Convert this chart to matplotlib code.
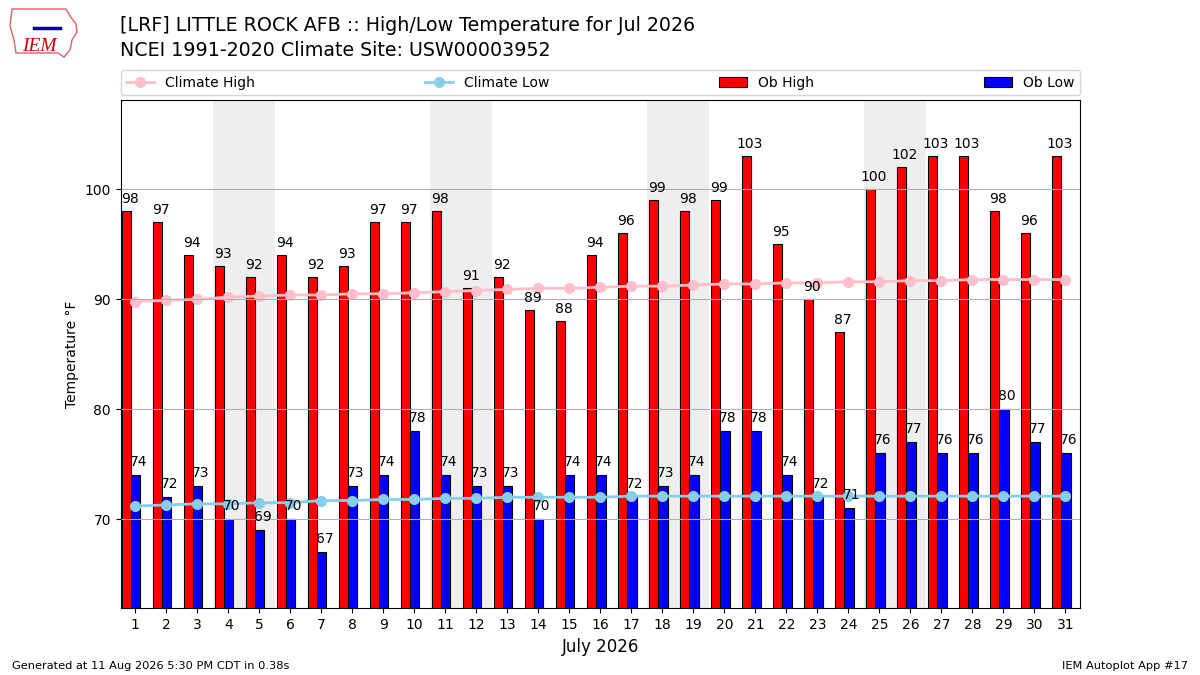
import matplotlib
matplotlib.use("Agg")
import matplotlib.pyplot as plt
from matplotlib.lines import Line2D
from matplotlib.patches import Patch, Polygon
import numpy as np

days = list(range(1, 32))
ob_high = [98, 97, 94, 93, 92, 94, 92, 93, 97, 97, 98, 91, 92, 89, 88, 94,
           96, 99, 98, 99, 103, 95, 90, 87, 100, 102, 103, 103, 98, 96, 103]
ob_low = [74, 72, 73, 70, 69, 70, 67, 73, 74, 78, 74, 73, 73, 70, 74, 74,
          72, 73, 74, 78, 78, 74, 72, 71, 76, 77, 76, 76, 80, 77, 76]
climate_high = [89.8, 89.9, 90.0, 90.2, 90.3, 90.4, 90.4, 90.5, 90.5, 90.6,
                90.7, 90.8, 90.9, 91.0, 91.0, 91.1, 91.2, 91.2, 91.3, 91.4,
                91.4, 91.5, 91.5, 91.6, 91.6, 91.7, 91.7, 91.8, 91.8, 91.8, 91.8]
climate_low = [71.2, 71.3, 71.4, 71.4, 71.5, 71.5, 71.7, 71.7, 71.8, 71.8,
               71.9, 71.9, 72.0, 72.0, 72.0, 72.0, 72.1, 72.1, 72.1, 72.1,
               72.1, 72.1, 72.1, 72.1, 72.1, 72.1, 72.1, 72.1, 72.1, 72.1, 72.1]
weekend_starts = [4, 11, 18, 25]
yticks = [70, 80, 90, 100]

title1 = "[LRF] LITTLE ROCK AFB :: High/Low Temperature for Jul 2026"
title2 = "NCEI 1991-2020 Climate Site: USW00003952"
footer_left = "Generated at 11 Aug 2026 5:30 PM CDT in 0.38s"
footer_right = "IEM Autoplot App #17"

fig = plt.figure(figsize=(12, 6.75), dpi=100)
ax = fig.add_axes([0.1006, 0.0988, 0.7997, 0.7526])

x = np.array(days, dtype=float)
for s in weekend_starts:
    ax.axvspan(s - 0.5, s + 1.5, color="#EEEEEE", zorder=0, lw=0)

w = 0.3
xh = x - 0.285
xl = x + 0.015
ax.bar(xh, ob_high, width=w, color="red", edgecolor="black", linewidth=0.8,
       zorder=1)
ax.bar(xl, ob_low, width=w, color="blue", edgecolor="black", linewidth=0.8,
       zorder=1)

ax.plot(x, climate_high, color="pink", marker="o", markersize=7, lw=2, zorder=2)
ax.plot(x, climate_low, color="skyblue", marker="o", markersize=7, lw=2, zorder=2)

for xi, v in zip(xh, ob_high):
    ax.text(xi + 0.1, v + 0.8, f"{v}", ha="center", va="baseline",
            fontsize=10, zorder=3)
for xi, v in zip(xl, ob_low):
    ax.text(xi + 0.1, v + 0.8, f"{v}", ha="center", va="baseline",
            fontsize=10, zorder=3)

ax.set_xlim(0.53, 31.48)
ax.set_ylim(61.9, 108.1)
ax.set_xticks(days)
ax.set_xticklabels([str(d) for d in days], fontsize=10)
ax.set_yticks(yticks)
ax.tick_params(axis="y", labelsize=10)
ax.yaxis.grid(True, color="#b0b0b0", lw=0.8)
ax.set_axisbelow(False)
ax.set_xlabel("July 2026", fontsize=12)
ax.set_ylabel("Temperature °F", fontsize=10)

handles = [
    Line2D([], [], color="pink", marker="o", markersize=7, lw=2),
    Line2D([], [], color="skyblue", marker="o", markersize=7, lw=2),
    Patch(facecolor="red", edgecolor="black", linewidth=0.8),
    Patch(facecolor="blue", edgecolor="black", linewidth=0.8),
]
labels = ["Climate High", "Climate Low", "Ob High", "Ob Low"]
ax.legend(handles, labels, ncol=4, mode="expand", loc="lower left",
          bbox_to_anchor=(0, 1.01, 1, 0.05), borderaxespad=0, fontsize=10)

fig.text(0.1, 0.9545, title1, fontsize=13.7, ha="left", va="baseline")
fig.text(0.1, 0.917, title2, fontsize=13.7, ha="left", va="baseline")

# simple logo: state outline + IEM text
outline_px = [(12, 9), (66, 9), (70, 16), (76, 24), (77, 32), (72, 40),
              (70, 50), (64, 57), (58, 53), (16, 53), (14, 40), (10, 26)]
outline = Polygon([(px / 1200, 1 - py / 675) for px, py in outline_px],
                  closed=True, fill=False, edgecolor="#e06060", lw=1,
                  transform=fig.transFigure)
fig.add_artist(outline)
fig.add_artist(Line2D([0.028, 0.05], [1 - 28 / 675, 1 - 28 / 675],
                      color="#0000aa", lw=2.5, transform=fig.transFigure))
fig.text(0.018, 0.925, "IEM", fontsize=14, color="#cc0000",
         family="Liberation Serif", style="italic", ha="left", va="baseline")

fig.text(0.01, 0.009, footer_left, fontsize=8.2, ha="left", va="baseline")
fig.text(0.99, 0.009, footer_right, fontsize=8.2, ha="right", va="baseline")

fig.savefig("out.png", dpi=100)
